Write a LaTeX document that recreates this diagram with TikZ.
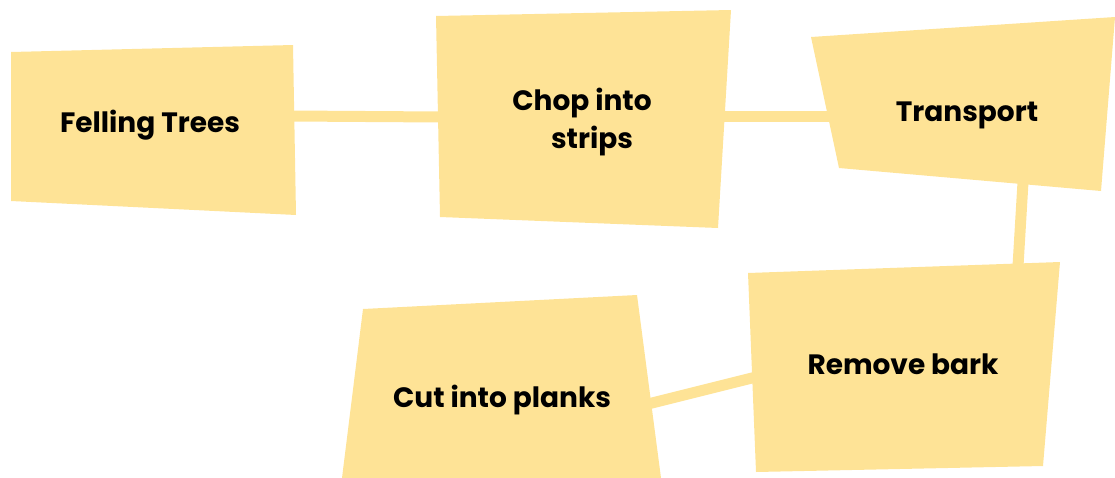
\documentclass[tikz,border=0pt]{standalone}
\usepackage{fontspec}
\setmainfont{Poppins}
\definecolor{boxfill}{RGB}{254,227,150}
\tikzset{
  box/.style={fill=boxfill, draw=none},
  link/.style={draw=boxfill, line width=11pt},
  lbl/.style={font=\fontsize{28}{38}\selectfont\bfseries, text=black, align=center, inner sep=0pt},
  lblb/.style={lbl, anchor=base}
}
\begin{document}
\begin{tikzpicture}[x=1pt,y=-1pt]
\useasboundingbox (0,0) rectangle (1115,477);
% connector end points
\coordinate (fR) at (290,116);
\coordinate (cL) at (442,117);
\coordinate (cR) at (720,116);
\coordinate (tL) at (832,116);
\coordinate (tB) at (1023,182);
\coordinate (rT) at (1018,266);
\coordinate (rL) at (756,377);
\coordinate (pR) at (648,404);
% connectors
\draw[link] (fR) -- (cL);
\draw[link] (cR) -- (tL);
\draw[link] (tB) -- (rT);
\draw[link] (rL) -- (pR);
% boxes
\fill[box] (11,52) -- (293,45) -- (296,215) -- (11,201) -- cycle;
\fill[box] (436,16) -- (731,10) -- (718,228) -- (440,217) -- cycle;
\fill[box] (811,37) -- (1115,17) -- (1101,191) -- (839,168) -- cycle;
\fill[box] (748,273) -- (1060,262) -- (1043,466) -- (756,472) -- cycle;
\fill[box] (363,309) -- (637,295) -- (661,478) -- (342,478) -- cycle;
% labels
\node[lblb] (felling) at (150,132) {Felling Trees};
\node[lbl] (chop) at (582,122) {Chop into\\\hspace*{20pt}strips};
\node[lblb] (transport) at (967,121) {Transport};
\node[lblb] (remove) at (903,374) {Remove bark};
\node[lblb] (cut) at (502,407) {Cut into planks};
\end{tikzpicture}
\end{document}
